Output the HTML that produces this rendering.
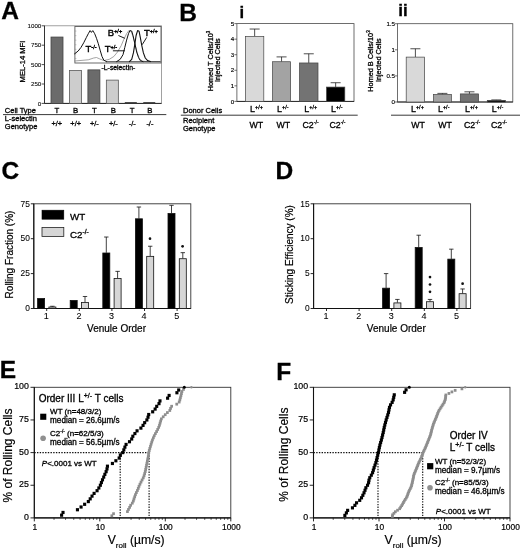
<!DOCTYPE html>
<html><head><meta charset="utf-8"><title>Figure</title>
<style>html,body{margin:0;padding:0;background:#fff;}svg{display:block;font-family:"Liberation Sans", Arial, sans-serif;will-change:transform;transform:translateZ(0);}text{stroke:#000;stroke-width:0.3px;}</style>
</head><body>
<svg width="520" height="551" viewBox="0 0 520 551">
<rect width="520" height="551" fill="#fff"/>
<text x="1.2" y="18.6" font-size="24.5" text-anchor="start" font-weight="bold" fill="#000">A</text>
<rect x="44.50" y="25.80" width="117.00" height="77.60" fill="none" stroke="#8a8a8a" stroke-width="0.8"/>
<line x1="44.5" y1="25.8" x2="44.5" y2="103.4" stroke="#333" stroke-width="1"/>
<line x1="44.5" y1="103.4" x2="161.5" y2="103.4" stroke="#222" stroke-width="1"/>
<line x1="41.6" y1="25.799999999999997" x2="44.5" y2="25.799999999999997" stroke="#222" stroke-width="0.8"/>
<text x="41.3" y="27.999999999999996" font-size="6.2" text-anchor="end" font-weight="normal" fill="#000" style="stroke-width:0.08px">1000</text>
<line x1="41.6" y1="45.199999999999996" x2="44.5" y2="45.199999999999996" stroke="#222" stroke-width="0.8"/>
<text x="41.3" y="47.4" font-size="6.2" text-anchor="end" font-weight="normal" fill="#000" style="stroke-width:0.08px">750</text>
<line x1="41.6" y1="64.6" x2="44.5" y2="64.6" stroke="#222" stroke-width="0.8"/>
<text x="41.3" y="66.8" font-size="6.2" text-anchor="end" font-weight="normal" fill="#000" style="stroke-width:0.08px">500</text>
<line x1="41.6" y1="84.0" x2="44.5" y2="84.0" stroke="#222" stroke-width="0.8"/>
<text x="41.3" y="86.2" font-size="6.2" text-anchor="end" font-weight="normal" fill="#000" style="stroke-width:0.08px">250</text>
<line x1="41.6" y1="103.4" x2="44.5" y2="103.4" stroke="#222" stroke-width="0.8"/>
<text x="41.3" y="105.60000000000001" font-size="6.2" text-anchor="end" font-weight="normal" fill="#000" style="stroke-width:0.08px">0</text>
<text x="24.9" y="61.5" font-size="7.6" text-anchor="middle" font-weight="normal" fill="#000" transform="rotate(-90 24.9 61.5)">MEL-14 MFI</text>
<rect x="51.00" y="37.05" width="12.00" height="66.35" fill="#6b6b6b" stroke="#444" stroke-width="0.8"/>
<rect x="69.45" y="70.42" width="12.00" height="32.98" fill="#cdcdcd" stroke="#5a5a5a" stroke-width="0.8"/>
<rect x="87.90" y="69.88" width="12.00" height="33.52" fill="#6b6b6b" stroke="#444" stroke-width="0.8"/>
<rect x="106.35" y="80.12" width="12.00" height="23.28" fill="#cdcdcd" stroke="#5a5a5a" stroke-width="0.8"/>
<rect x="124.80" y="102.10" width="12.00" height="1.30" fill="#3a3a3a" stroke="none" stroke-width="1"/>
<rect x="143.25" y="102.10" width="12.00" height="1.30" fill="#3a3a3a" stroke="none" stroke-width="1"/>
<rect x="74.90" y="26.50" width="86.10" height="36.50" fill="#fff" stroke="#5a5a5a" stroke-width="0.9"/>
<line x1="74.9" y1="31.0625" x2="76.4" y2="31.0625" stroke="#888" stroke-width="0.5"/>
<line x1="74.9" y1="35.625" x2="76.4" y2="35.625" stroke="#888" stroke-width="0.5"/>
<line x1="74.9" y1="40.1875" x2="76.4" y2="40.1875" stroke="#888" stroke-width="0.5"/>
<line x1="74.9" y1="44.75" x2="76.4" y2="44.75" stroke="#888" stroke-width="0.5"/>
<line x1="74.9" y1="49.3125" x2="76.4" y2="49.3125" stroke="#888" stroke-width="0.5"/>
<line x1="74.9" y1="53.875" x2="76.4" y2="53.875" stroke="#888" stroke-width="0.5"/>
<line x1="74.9" y1="58.4375" x2="76.4" y2="58.4375" stroke="#888" stroke-width="0.5"/>
<path d="M74.6,61.0 L88.3,59.8 L93.7,58.0 L96.5,57.5 L99.2,58.7 L103.8,60.6 L109.3,59.3 L113.8,56.5 L117.5,52.0 L121.2,45.6 L123.9,39.2 L126.6,33.7 L128.8,30.6 L131.2,31.3 L133.0,36.4 L134.9,43.7 L137.2,52.9 L139.4,58.4 L142.2,61.1 L146.7,61.6 L160.5,61.8" fill="none" stroke="#8c8c8c" stroke-width="0.8" stroke-linejoin="round" stroke-linecap="round"/>
<path d="M74.6,53.8 L78.2,51.0 L81.0,47.4 L83.7,42.8 L86.4,37.4 L88.3,33.7 L90.1,30.6 L91.4,32.4 L92.8,30.6 L94.7,33.7 L96.5,38.3 L98.3,43.7 L100.1,50.1 L102.0,56.5 L103.8,60.2 L106.5,61.6" fill="none" stroke="#111" stroke-width="1.0" stroke-linejoin="round" stroke-linecap="round"/>
<line x1="106" y1="61.7" x2="160.5" y2="61.7" stroke="#222" stroke-width="0.8"/>
<path d="M116.6,61.6 L120.2,59.3 L123.0,54.7 L124.8,47.4 L126.6,40.1 L128.5,33.7 L129.9,30.6 L131.7,31.0 L133.0,35.5 L134.9,43.7 L136.7,52.0 L138.5,57.5 L140.3,60.6 L143.0,61.6" fill="none" stroke="#111" stroke-width="1.0" stroke-linejoin="round" stroke-linecap="round"/>
<path d="M129.4,61.6 L131.7,59.3 L133.4,52.9 L134.9,43.7 L136.1,35.5 L137.6,30.6 L139.1,31.3 L140.3,37.4 L141.8,45.6 L143.4,52.9 L145.3,58.0 L147.6,60.6 L150.4,61.6" fill="none" stroke="#111" stroke-width="1.1" stroke-linejoin="round" stroke-linecap="round"/>
<line x1="118.4" y1="35.5" x2="124.8" y2="38.3" stroke="#000" stroke-width="0.9"/>
<line x1="112.9" y1="50.8" x2="124.8" y2="50.8" stroke="#000" stroke-width="0.9"/>
<line x1="146.7" y1="37.4" x2="142.2" y2="44.7" stroke="#000" stroke-width="0.9"/>
<text x="85.5" y="52" font-size="9.5" text-anchor="start" font-weight="normal" fill="#000" style="stroke-width:0.4px">T<tspan font-size="5.5" dy="-3.5">-/-</tspan><tspan dy="3.5" font-size="1">&#8203;</tspan></text>
<text x="104.7" y="52" font-size="9.5" text-anchor="start" font-weight="normal" fill="#000" style="stroke-width:0.4px">T<tspan font-size="5.5" dy="-3.5">+/-</tspan><tspan dy="3.5" font-size="1">&#8203;</tspan></text>
<text x="107.8" y="36" font-size="9.5" text-anchor="start" font-weight="normal" fill="#000" style="stroke-width:0.4px">B<tspan font-size="5.5" dy="-3.5">+/+</tspan><tspan dy="3.5" font-size="1">&#8203;</tspan></text>
<text x="144" y="36" font-size="9.5" text-anchor="start" font-weight="normal" fill="#000" style="stroke-width:0.4px">T<tspan font-size="5.5" dy="-3.5">+/+</tspan><tspan dy="3.5" font-size="1">&#8203;</tspan></text>
<text x="118.4" y="70.3" font-size="6.8" text-anchor="middle" font-weight="normal" fill="#000">-L-selectin-</text>
<text x="4.8" y="112.5" font-size="7.5" text-anchor="start" font-weight="normal" fill="#000">Cell Type</text>
<line x1="3" y1="114.6" x2="166.3" y2="114.6" stroke="#222" stroke-width="0.9"/>
<text x="4.8" y="120.8" font-size="7.5" text-anchor="start" font-weight="normal" fill="#000">L-selectin</text>
<text x="4.8" y="129.2" font-size="7.5" text-anchor="start" font-weight="normal" fill="#000">Genotype</text>
<text x="56.8" y="112.5" font-size="7.8" text-anchor="middle" font-weight="normal" fill="#000">T</text>
<text x="75.7" y="112.5" font-size="7.8" text-anchor="middle" font-weight="normal" fill="#000">B</text>
<text x="94.3" y="112.5" font-size="7.8" text-anchor="middle" font-weight="normal" fill="#000">T</text>
<text x="113.4" y="112.5" font-size="7.8" text-anchor="middle" font-weight="normal" fill="#000">B</text>
<text x="132.2" y="112.5" font-size="7.8" text-anchor="middle" font-weight="normal" fill="#000">T</text>
<text x="149.9" y="112.5" font-size="7.8" text-anchor="middle" font-weight="normal" fill="#000">B</text>
<text x="56.8" y="125.8" font-size="7.4" text-anchor="middle" font-weight="normal" fill="#000">+/+</text>
<text x="75.7" y="125.8" font-size="7.4" text-anchor="middle" font-weight="normal" fill="#000">+/+</text>
<text x="94.3" y="125.8" font-size="7.4" text-anchor="middle" font-weight="normal" fill="#000">+/-</text>
<text x="113.4" y="125.8" font-size="7.4" text-anchor="middle" font-weight="normal" fill="#000">+/-</text>
<text x="132.2" y="125.8" font-size="7.4" text-anchor="middle" font-weight="normal" fill="#000">-/-</text>
<text x="149.9" y="125.8" font-size="7.4" text-anchor="middle" font-weight="normal" fill="#000">-/-</text>
<text x="179.3" y="20.7" font-size="24.5" text-anchor="start" font-weight="bold" fill="#000">B</text>
<text x="239.6" y="17.6" font-size="16.5" text-anchor="start" font-weight="bold" fill="#000">i</text>
<text x="398.3" y="15.8" font-size="17" text-anchor="start" font-weight="bold" fill="#000">ii</text>
<rect x="236.90" y="23.60" width="117.10" height="77.80" fill="none" stroke="#4a4a4a" stroke-width="0.8"/>
<line x1="236.9" y1="101.4" x2="354" y2="101.4" stroke="#222" stroke-width="0.9"/>
<line x1="234.4" y1="101.4" x2="236.9" y2="101.4" stroke="#333" stroke-width="0.7"/>
<text x="234.3" y="103.5" font-size="6.2" text-anchor="end" font-weight="normal" fill="#000" style="stroke-width:0.15px">0</text>
<line x1="234.4" y1="85.84" x2="236.9" y2="85.84" stroke="#333" stroke-width="0.7"/>
<text x="234.3" y="87.94" font-size="6.2" text-anchor="end" font-weight="normal" fill="#000" style="stroke-width:0.15px">1</text>
<line x1="234.4" y1="70.28" x2="236.9" y2="70.28" stroke="#333" stroke-width="0.7"/>
<text x="234.3" y="72.38" font-size="6.2" text-anchor="end" font-weight="normal" fill="#000" style="stroke-width:0.15px">2</text>
<line x1="234.4" y1="54.72" x2="236.9" y2="54.72" stroke="#333" stroke-width="0.7"/>
<text x="234.3" y="56.82" font-size="6.2" text-anchor="end" font-weight="normal" fill="#000" style="stroke-width:0.15px">3</text>
<line x1="234.4" y1="39.16" x2="236.9" y2="39.16" stroke="#333" stroke-width="0.7"/>
<text x="234.3" y="41.26" font-size="6.2" text-anchor="end" font-weight="normal" fill="#000" style="stroke-width:0.15px">4</text>
<line x1="234.4" y1="23.599999999999994" x2="236.9" y2="23.599999999999994" stroke="#333" stroke-width="0.7"/>
<text x="234.3" y="25.699999999999996" font-size="6.2" text-anchor="end" font-weight="normal" fill="#000" style="stroke-width:0.15px">5</text>
<line x1="254.65" y1="29.045999999999992" x2="254.65" y2="36.3592" stroke="#222" stroke-width="0.8"/>
<line x1="249.65" y1="29.045999999999992" x2="259.65" y2="29.045999999999992" stroke="#222" stroke-width="0.8"/>
<rect x="245.50" y="36.36" width="18.30" height="65.04" fill="#d9d9d9" stroke="#444" stroke-width="0.7"/>
<line x1="281.55" y1="56.8984" x2="281.55" y2="61.722" stroke="#222" stroke-width="0.8"/>
<line x1="276.55" y1="56.8984" x2="286.55" y2="56.8984" stroke="#222" stroke-width="0.8"/>
<rect x="272.50" y="61.72" width="18.10" height="39.68" fill="#a3a3a3" stroke="#444" stroke-width="0.7"/>
<line x1="308.75" y1="53.7864" x2="308.75" y2="62.96679999999999" stroke="#222" stroke-width="0.8"/>
<line x1="303.75" y1="53.7864" x2="313.75" y2="53.7864" stroke="#222" stroke-width="0.8"/>
<rect x="299.50" y="62.97" width="18.50" height="38.43" fill="#737373" stroke="#444" stroke-width="0.7"/>
<line x1="335.65" y1="82.72800000000001" x2="335.65" y2="87.0848" stroke="#222" stroke-width="0.8"/>
<line x1="330.65" y1="82.72800000000001" x2="340.65" y2="82.72800000000001" stroke="#222" stroke-width="0.8"/>
<rect x="326.50" y="87.08" width="18.30" height="14.32" fill="#000" stroke="#444" stroke-width="0.7"/>
<rect x="397.40" y="23.70" width="115.40" height="78.30" fill="none" stroke="#4a4a4a" stroke-width="0.8"/>
<line x1="397.4" y1="102" x2="512.8" y2="102" stroke="#222" stroke-width="0.9"/>
<line x1="394.9" y1="23.700000000000003" x2="397.4" y2="23.700000000000003" stroke="#333" stroke-width="0.7"/>
<text x="395" y="25.800000000000004" font-size="6.2" text-anchor="end" font-weight="normal" fill="#000" style="stroke-width:0.15px">1.5</text>
<line x1="394.9" y1="49.800000000000004" x2="397.4" y2="49.800000000000004" stroke="#333" stroke-width="0.7"/>
<text x="395" y="51.900000000000006" font-size="6.2" text-anchor="end" font-weight="normal" fill="#000" style="stroke-width:0.15px">1</text>
<line x1="394.9" y1="75.9" x2="397.4" y2="75.9" stroke="#333" stroke-width="0.7"/>
<text x="395" y="78.0" font-size="6.2" text-anchor="end" font-weight="normal" fill="#000" style="stroke-width:0.15px">0.5</text>
<line x1="394.9" y1="102.0" x2="397.4" y2="102.0" stroke="#333" stroke-width="0.7"/>
<text x="395" y="104.1" font-size="6.2" text-anchor="end" font-weight="normal" fill="#000" style="stroke-width:0.15px">0</text>
<line x1="415.4" y1="48.756" x2="415.4" y2="57.108000000000004" stroke="#222" stroke-width="0.8"/>
<line x1="410.4" y1="48.756" x2="420.4" y2="48.756" stroke="#222" stroke-width="0.8"/>
<rect x="406.20" y="57.11" width="18.40" height="44.89" fill="#d9d9d9" stroke="#444" stroke-width="0.7"/>
<line x1="442.4" y1="93.387" x2="442.4" y2="94.431" stroke="#222" stroke-width="0.8"/>
<line x1="437.4" y1="93.387" x2="447.4" y2="93.387" stroke="#222" stroke-width="0.8"/>
<rect x="433.40" y="94.43" width="18.00" height="7.57" fill="#a3a3a3" stroke="#444" stroke-width="0.7"/>
<line x1="469.45000000000005" y1="91.821" x2="469.45000000000005" y2="93.909" stroke="#222" stroke-width="0.8"/>
<line x1="464.45000000000005" y1="91.821" x2="474.45000000000005" y2="91.821" stroke="#222" stroke-width="0.8"/>
<rect x="460.30" y="93.91" width="18.30" height="8.09" fill="#737373" stroke="#444" stroke-width="0.7"/>
<line x1="496.35" y1="99.912" x2="496.35" y2="100.434" stroke="#222" stroke-width="0.8"/>
<line x1="491.35" y1="99.912" x2="501.35" y2="99.912" stroke="#222" stroke-width="0.8"/>
<rect x="487.30" y="100.43" width="18.10" height="1.57" fill="#000" stroke="#444" stroke-width="0.7"/>
<text x="212.5" y="61" font-size="7.3" text-anchor="middle" font-weight="normal" fill="#000" transform="rotate(-90 212.5 61)">Homed T Cells/10<tspan font-size="4.5" dy="-3">3</tspan><tspan dy="3" font-size="1">&#8203;</tspan></text>
<text x="220.1" y="60.2" font-size="7.3" text-anchor="middle" font-weight="normal" fill="#000" transform="rotate(-90 220.1 60.2)">Injected Cells</text>
<text x="372.79999999999995" y="61" font-size="7.3" text-anchor="middle" font-weight="normal" fill="#000" transform="rotate(-90 372.79999999999995 61)">Homed B Cells/10<tspan font-size="4.5" dy="-3">3</tspan><tspan dy="3" font-size="1">&#8203;</tspan></text>
<text x="380.59999999999997" y="60.2" font-size="7.3" text-anchor="middle" font-weight="normal" fill="#000" transform="rotate(-90 380.59999999999997 60.2)">Injected Cells</text>
<text x="183" y="113.4" font-size="7.5" text-anchor="start" font-weight="normal" fill="#000">Donor Cells</text>
<line x1="180.8" y1="115.2" x2="357.7" y2="115.2" stroke="#222" stroke-width="0.9"/>
<line x1="391" y1="115.2" x2="520" y2="115.2" stroke="#222" stroke-width="0.9"/>
<text x="183" y="122.6" font-size="7.5" text-anchor="start" font-weight="normal" fill="#000">Recipient</text>
<text x="183" y="130.8" font-size="7.5" text-anchor="start" font-weight="normal" fill="#000">Genotype</text>
<text x="250.1" y="112.3" font-size="9" text-anchor="start" font-weight="normal" fill="#000">L<tspan font-size="5.5" dy="-3.3">+/+</tspan><tspan dy="3.3" font-size="1">&#8203;</tspan></text>
<text x="256.4" y="127.7" font-size="8.8" text-anchor="middle" font-weight="normal" fill="#000">WT</text>
<text x="277.0" y="112.3" font-size="9" text-anchor="start" font-weight="normal" fill="#000">L<tspan font-size="5.5" dy="-3.3">+/-</tspan><tspan dy="3.3" font-size="1">&#8203;</tspan></text>
<text x="283.3" y="127.7" font-size="8.8" text-anchor="middle" font-weight="normal" fill="#000">WT</text>
<text x="304.2" y="112.3" font-size="9" text-anchor="start" font-weight="normal" fill="#000">L<tspan font-size="5.5" dy="-3.3">+/+</tspan><tspan dy="3.3" font-size="1">&#8203;</tspan></text>
<text x="302.5" y="127.7" font-size="8.8" text-anchor="start" font-weight="normal" fill="#000">C2<tspan font-size="5.2" dy="-3.3">-/-</tspan><tspan dy="3.3" font-size="1">&#8203;</tspan></text>
<text x="331.1" y="112.3" font-size="9" text-anchor="start" font-weight="normal" fill="#000">L<tspan font-size="5.5" dy="-3.3">+/-</tspan><tspan dy="3.3" font-size="1">&#8203;</tspan></text>
<text x="329.40000000000003" y="127.7" font-size="8.8" text-anchor="start" font-weight="normal" fill="#000">C2<tspan font-size="5.2" dy="-3.3">-/-</tspan><tspan dy="3.3" font-size="1">&#8203;</tspan></text>
<text x="410.9" y="112.3" font-size="9" text-anchor="start" font-weight="normal" fill="#000">L<tspan font-size="5.5" dy="-3.3">+/+</tspan><tspan dy="3.3" font-size="1">&#8203;</tspan></text>
<text x="418.0" y="127.7" font-size="8.8" text-anchor="middle" font-weight="normal" fill="#000">WT</text>
<text x="437.9" y="112.3" font-size="9" text-anchor="start" font-weight="normal" fill="#000">L<tspan font-size="5.5" dy="-3.3">+/-</tspan><tspan dy="3.3" font-size="1">&#8203;</tspan></text>
<text x="445.0" y="127.7" font-size="8.8" text-anchor="middle" font-weight="normal" fill="#000">WT</text>
<text x="464.9" y="112.3" font-size="9" text-anchor="start" font-weight="normal" fill="#000">L<tspan font-size="5.5" dy="-3.3">+/+</tspan><tspan dy="3.3" font-size="1">&#8203;</tspan></text>
<text x="464.0" y="127.7" font-size="8.8" text-anchor="start" font-weight="normal" fill="#000">C2<tspan font-size="5.2" dy="-3.3">-/-</tspan><tspan dy="3.3" font-size="1">&#8203;</tspan></text>
<text x="491.8" y="112.3" font-size="9" text-anchor="start" font-weight="normal" fill="#000">L<tspan font-size="5.5" dy="-3.3">+/-</tspan><tspan dy="3.3" font-size="1">&#8203;</tspan></text>
<text x="490.90000000000003" y="127.7" font-size="8.8" text-anchor="start" font-weight="normal" fill="#000">C2<tspan font-size="5.2" dy="-3.3">-/-</tspan><tspan dy="3.3" font-size="1">&#8203;</tspan></text>
<text x="1.4" y="179.1" font-size="24.5" text-anchor="start" font-weight="bold" fill="#000">C</text>
<rect x="33.80" y="203.80" width="157.00" height="104.70" fill="none" stroke="#333" stroke-width="0.9"/>
<line x1="33.8" y1="203.8" x2="33.8" y2="308.5" stroke="#111" stroke-width="1.1"/>
<line x1="33.8" y1="308.5" x2="190.8" y2="308.5" stroke="#111" stroke-width="1.1"/>
<line x1="30.799999999999997" y1="203.8" x2="33.8" y2="203.8" stroke="#111" stroke-width="0.9"/>
<text x="29.799999999999997" y="206.5" font-size="8.4" text-anchor="end" font-weight="normal" fill="#000" style="stroke-width:0.08px">75</text>
<line x1="30.799999999999997" y1="238.70000000000002" x2="33.8" y2="238.70000000000002" stroke="#111" stroke-width="0.9"/>
<text x="29.799999999999997" y="241.4" font-size="8.4" text-anchor="end" font-weight="normal" fill="#000" style="stroke-width:0.08px">50</text>
<line x1="30.799999999999997" y1="273.6" x2="33.8" y2="273.6" stroke="#111" stroke-width="0.9"/>
<text x="29.799999999999997" y="276.3" font-size="8.4" text-anchor="end" font-weight="normal" fill="#000" style="stroke-width:0.08px">25</text>
<line x1="30.799999999999997" y1="308.5" x2="33.8" y2="308.5" stroke="#111" stroke-width="0.9"/>
<text x="29.799999999999997" y="311.2" font-size="8.4" text-anchor="end" font-weight="normal" fill="#000" style="stroke-width:0.08px">0</text>
<text x="13.1" y="254.5" font-size="10" text-anchor="middle" font-weight="normal" fill="#000" transform="rotate(-90 13.1 254.5)" style="stroke-width:0.2px">Rolling Fraction (%)</text>
<line x1="46.699999999999996" y1="308.5" x2="46.699999999999996" y2="311.0" stroke="#111" stroke-width="0.9"/>
<text x="46.3" y="318.8" font-size="9" text-anchor="middle" font-weight="normal" fill="#000" style="stroke-width:0.08px">1</text>
<rect x="37.60" y="298.51" width="7.00" height="9.99" fill="#000" stroke="#111" stroke-width="0.8"/>
<line x1="52.39999999999999" y1="306.2664" x2="52.39999999999999" y2="306.8248" stroke="#111" stroke-width="0.8"/>
<line x1="50.19999999999999" y1="306.2664" x2="54.599999999999994" y2="306.2664" stroke="#111" stroke-width="0.8"/>
<rect x="48.90" y="307.02" width="7.00" height="1.48" fill="#d6d6d6" stroke="#111" stroke-width="0.8"/>
<line x1="79.30000000000001" y1="308.5" x2="79.30000000000001" y2="311.0" stroke="#111" stroke-width="0.9"/>
<text x="78.9" y="318.8" font-size="9" text-anchor="middle" font-weight="normal" fill="#000" style="stroke-width:0.08px">2</text>
<rect x="70.20" y="300.46" width="7.00" height="8.04" fill="#000" stroke="#111" stroke-width="0.8"/>
<line x1="85.0" y1="296.4944" x2="85.0" y2="302.3576" stroke="#111" stroke-width="0.8"/>
<line x1="82.8" y1="296.4944" x2="87.2" y2="296.4944" stroke="#111" stroke-width="0.8"/>
<rect x="81.50" y="302.56" width="7.00" height="5.94" fill="#d6d6d6" stroke="#111" stroke-width="0.8"/>
<line x1="111.9" y1="308.5" x2="111.9" y2="311.0" stroke="#111" stroke-width="0.9"/>
<text x="111.5" y="318.8" font-size="9" text-anchor="middle" font-weight="normal" fill="#000" style="stroke-width:0.08px">3</text>
<line x1="106.3" y1="237.02480000000003" x2="106.3" y2="252.7996" stroke="#111" stroke-width="0.8"/>
<line x1="104.1" y1="237.02480000000003" x2="108.5" y2="237.02480000000003" stroke="#111" stroke-width="0.8"/>
<rect x="102.80" y="253.00" width="7.00" height="55.50" fill="#000" stroke="#111" stroke-width="0.8"/>
<line x1="117.6" y1="271.3664" x2="117.6" y2="278.3464" stroke="#111" stroke-width="0.8"/>
<line x1="115.39999999999999" y1="271.3664" x2="119.8" y2="271.3664" stroke="#111" stroke-width="0.8"/>
<rect x="114.10" y="278.55" width="7.00" height="29.95" fill="#d6d6d6" stroke="#111" stroke-width="0.8"/>
<line x1="144.50000000000003" y1="308.5" x2="144.50000000000003" y2="311.0" stroke="#111" stroke-width="0.9"/>
<text x="144.1" y="318.8" font-size="9" text-anchor="middle" font-weight="normal" fill="#000" style="stroke-width:0.08px">4</text>
<line x1="138.90000000000003" y1="207.01080000000002" x2="138.90000000000003" y2="218.5976" stroke="#111" stroke-width="0.8"/>
<line x1="136.70000000000005" y1="207.01080000000002" x2="141.10000000000002" y2="207.01080000000002" stroke="#111" stroke-width="0.8"/>
<rect x="135.40" y="218.80" width="7.00" height="89.70" fill="#000" stroke="#111" stroke-width="0.8"/>
<line x1="150.20000000000005" y1="246.2384" x2="150.20000000000005" y2="256.15" stroke="#111" stroke-width="0.8"/>
<line x1="148.00000000000006" y1="246.2384" x2="152.40000000000003" y2="246.2384" stroke="#111" stroke-width="0.8"/>
<rect x="146.70" y="256.35" width="7.00" height="52.15" fill="#d6d6d6" stroke="#111" stroke-width="0.8"/>
<line x1="177.1" y1="308.5" x2="177.1" y2="311.0" stroke="#111" stroke-width="0.9"/>
<text x="176.7" y="318.8" font-size="9" text-anchor="middle" font-weight="normal" fill="#000" style="stroke-width:0.08px">5</text>
<line x1="171.5" y1="205.3356" x2="171.5" y2="213.2928" stroke="#111" stroke-width="0.8"/>
<line x1="169.3" y1="205.3356" x2="173.7" y2="205.3356" stroke="#111" stroke-width="0.8"/>
<rect x="168.00" y="213.49" width="7.00" height="95.01" fill="#000" stroke="#111" stroke-width="0.8"/>
<line x1="182.8" y1="252.66" x2="182.8" y2="258.52320000000003" stroke="#111" stroke-width="0.8"/>
<line x1="180.60000000000002" y1="252.66" x2="185.0" y2="252.66" stroke="#111" stroke-width="0.8"/>
<rect x="179.30" y="258.72" width="7.00" height="49.78" fill="#d6d6d6" stroke="#111" stroke-width="0.8"/>
<circle cx="150" cy="238.7" r="1.35" fill="#111"/>
<circle cx="182.6" cy="246.3" r="1.35" fill="#111"/>
<text x="116.5" y="331.5" font-size="10" text-anchor="middle" font-weight="normal" fill="#000" style="stroke-width:0.2px">Venule Order</text>
<rect x="42.00" y="210.20" width="21.80" height="9.00" fill="#000" stroke="#000" stroke-width="0.6"/>
<text x="70" y="220.3" font-size="9.8" text-anchor="start" font-weight="normal" fill="#000">WT</text>
<rect x="42.00" y="227.50" width="21.80" height="9.00" fill="#d6d6d6" stroke="#222" stroke-width="0.8"/>
<text x="70" y="237.7" font-size="9.8" text-anchor="start" font-weight="normal" fill="#000">C2<tspan font-size="6.5" dy="-3.5">-/-</tspan><tspan dy="3.5" font-size="1">&#8203;</tspan></text>
<text x="275.6" y="179.1" font-size="24.5" text-anchor="start" font-weight="bold" fill="#000">D</text>
<rect x="313.60" y="203.80" width="157.00" height="104.70" fill="none" stroke="#333" stroke-width="0.9"/>
<line x1="313.6" y1="203.8" x2="313.6" y2="308.5" stroke="#111" stroke-width="1.1"/>
<line x1="313.6" y1="308.5" x2="470.6" y2="308.5" stroke="#111" stroke-width="1.1"/>
<line x1="310.6" y1="203.8" x2="313.6" y2="203.8" stroke="#111" stroke-width="0.9"/>
<text x="309.6" y="206.5" font-size="8.4" text-anchor="end" font-weight="normal" fill="#000" style="stroke-width:0.08px">15</text>
<line x1="310.6" y1="238.7" x2="313.6" y2="238.7" stroke="#111" stroke-width="0.9"/>
<text x="309.6" y="241.39999999999998" font-size="8.4" text-anchor="end" font-weight="normal" fill="#000" style="stroke-width:0.08px">10</text>
<line x1="310.6" y1="273.6" x2="313.6" y2="273.6" stroke="#111" stroke-width="0.9"/>
<text x="309.6" y="276.3" font-size="8.4" text-anchor="end" font-weight="normal" fill="#000" style="stroke-width:0.08px">5</text>
<line x1="310.6" y1="308.5" x2="313.6" y2="308.5" stroke="#111" stroke-width="0.9"/>
<text x="309.6" y="311.2" font-size="8.4" text-anchor="end" font-weight="normal" fill="#000" style="stroke-width:0.08px">0</text>
<text x="292.8" y="254.5" font-size="10" text-anchor="middle" font-weight="normal" fill="#000" transform="rotate(-90 292.8 254.5)" style="stroke-width:0.2px">Sticking Efficiency (%)</text>
<line x1="326.5" y1="308.5" x2="326.5" y2="311.0" stroke="#111" stroke-width="0.9"/>
<text x="326.1" y="318.8" font-size="9" text-anchor="middle" font-weight="normal" fill="#000" style="stroke-width:0.08px">1</text>
<line x1="359.1" y1="308.5" x2="359.1" y2="311.0" stroke="#111" stroke-width="0.9"/>
<text x="358.7" y="318.8" font-size="9" text-anchor="middle" font-weight="normal" fill="#000" style="stroke-width:0.08px">2</text>
<line x1="391.7" y1="308.5" x2="391.7" y2="311.0" stroke="#111" stroke-width="0.9"/>
<text x="391.3" y="318.8" font-size="9" text-anchor="middle" font-weight="normal" fill="#000" style="stroke-width:0.08px">3</text>
<line x1="386.1" y1="273.6" x2="386.1" y2="287.9788" stroke="#111" stroke-width="0.8"/>
<line x1="383.90000000000003" y1="273.6" x2="388.3" y2="273.6" stroke="#111" stroke-width="0.8"/>
<rect x="382.60" y="288.18" width="7.00" height="20.32" fill="#000" stroke="#111" stroke-width="0.8"/>
<line x1="397.40000000000003" y1="299.426" x2="397.40000000000003" y2="302.7066" stroke="#111" stroke-width="0.8"/>
<line x1="395.20000000000005" y1="299.426" x2="399.6" y2="299.426" stroke="#111" stroke-width="0.8"/>
<rect x="393.90" y="302.91" width="7.00" height="5.59" fill="#d6d6d6" stroke="#111" stroke-width="0.8"/>
<line x1="424.3" y1="308.5" x2="424.3" y2="311.0" stroke="#111" stroke-width="0.9"/>
<text x="423.9" y="318.8" font-size="9" text-anchor="middle" font-weight="normal" fill="#000" style="stroke-width:0.08px">4</text>
<line x1="418.70000000000005" y1="235.21" x2="418.70000000000005" y2="247.2854" stroke="#111" stroke-width="0.8"/>
<line x1="416.50000000000006" y1="235.21" x2="420.90000000000003" y2="235.21" stroke="#111" stroke-width="0.8"/>
<rect x="415.20" y="247.49" width="7.00" height="61.01" fill="#000" stroke="#111" stroke-width="0.8"/>
<line x1="430.00000000000006" y1="299.426" x2="430.00000000000006" y2="301.52" stroke="#111" stroke-width="0.8"/>
<line x1="427.80000000000007" y1="299.426" x2="432.20000000000005" y2="299.426" stroke="#111" stroke-width="0.8"/>
<rect x="426.50" y="301.72" width="7.00" height="6.78" fill="#d6d6d6" stroke="#111" stroke-width="0.8"/>
<line x1="456.9" y1="308.5" x2="456.9" y2="311.0" stroke="#111" stroke-width="0.9"/>
<text x="456.5" y="318.8" font-size="9" text-anchor="middle" font-weight="normal" fill="#000" style="stroke-width:0.08px">5</text>
<line x1="451.3" y1="249.17000000000002" x2="451.3" y2="258.942" stroke="#111" stroke-width="0.8"/>
<line x1="449.1" y1="249.17000000000002" x2="453.5" y2="249.17000000000002" stroke="#111" stroke-width="0.8"/>
<rect x="447.80" y="259.14" width="7.00" height="49.36" fill="#000" stroke="#111" stroke-width="0.8"/>
<line x1="462.6" y1="288.956" x2="462.6" y2="293.493" stroke="#111" stroke-width="0.8"/>
<line x1="460.40000000000003" y1="288.956" x2="464.8" y2="288.956" stroke="#111" stroke-width="0.8"/>
<rect x="459.10" y="293.69" width="7.00" height="14.81" fill="#d6d6d6" stroke="#111" stroke-width="0.8"/>
<circle cx="430.0" cy="277.1" r="1.35" fill="#111"/>
<circle cx="430.0" cy="284.5" r="1.35" fill="#111"/>
<circle cx="430.0" cy="291.8" r="1.35" fill="#111"/>
<circle cx="462.6" cy="283.7" r="1.35" fill="#111"/>
<text x="396.3" y="331.5" font-size="10" text-anchor="middle" font-weight="normal" fill="#000" style="stroke-width:0.2px">Venule Order</text>
<text x="-0.2" y="378.4" font-size="24.5" text-anchor="start" font-weight="bold" fill="#000">E</text>
<rect x="34.30" y="387.30" width="196.50" height="130.60" fill="none" stroke="#333" stroke-width="0.9"/>
<line x1="34.3" y1="387.3" x2="34.3" y2="517.9" stroke="#111" stroke-width="1.1"/>
<line x1="34.3" y1="517.9" x2="230.8" y2="517.9" stroke="#111" stroke-width="1.1"/>
<line x1="30.499999999999996" y1="387.3" x2="34.3" y2="387.3" stroke="#111" stroke-width="0.9"/>
<text x="28.9" y="389.3" font-size="8.8" text-anchor="end" font-weight="normal" fill="#000" style="stroke-width:0.2px">100</text>
<line x1="30.499999999999996" y1="419.95" x2="34.3" y2="419.95" stroke="#111" stroke-width="0.9"/>
<text x="28.9" y="421.95" font-size="8.8" text-anchor="end" font-weight="normal" fill="#000" style="stroke-width:0.2px">75</text>
<line x1="30.499999999999996" y1="452.6" x2="34.3" y2="452.6" stroke="#111" stroke-width="0.9"/>
<text x="28.9" y="454.6" font-size="8.8" text-anchor="end" font-weight="normal" fill="#000" style="stroke-width:0.2px">50</text>
<line x1="30.499999999999996" y1="485.25" x2="34.3" y2="485.25" stroke="#111" stroke-width="0.9"/>
<text x="28.9" y="487.25" font-size="8.8" text-anchor="end" font-weight="normal" fill="#000" style="stroke-width:0.2px">25</text>
<line x1="30.499999999999996" y1="517.9" x2="34.3" y2="517.9" stroke="#111" stroke-width="0.9"/>
<text x="28.9" y="519.9" font-size="8.8" text-anchor="end" font-weight="normal" fill="#000" style="stroke-width:0.2px">0</text>
<line x1="34.3" y1="517.9" x2="34.3" y2="521.4" stroke="#111" stroke-width="0.9"/>
<text x="34.8" y="529.5" font-size="8.4" text-anchor="middle" font-weight="normal" fill="#000" style="stroke-width:0.2px">1</text>
<line x1="54.01746471599077" y1="517.9" x2="54.01746471599077" y2="519.9" stroke="#111" stroke-width="0.7"/>
<line x1="65.55144218413788" y1="517.9" x2="65.55144218413788" y2="519.9" stroke="#111" stroke-width="0.7"/>
<line x1="73.73492943198153" y1="517.9" x2="73.73492943198153" y2="519.9" stroke="#111" stroke-width="0.7"/>
<line x1="80.08253528400923" y1="517.9" x2="80.08253528400923" y2="519.9" stroke="#111" stroke-width="0.7"/>
<line x1="85.26890690012866" y1="517.9" x2="85.26890690012866" y2="519.9" stroke="#111" stroke-width="0.7"/>
<line x1="89.65392162093382" y1="517.9" x2="89.65392162093382" y2="519.9" stroke="#111" stroke-width="0.7"/>
<line x1="93.4523941479723" y1="517.9" x2="93.4523941479723" y2="519.9" stroke="#111" stroke-width="0.7"/>
<line x1="96.80288436827578" y1="517.9" x2="96.80288436827578" y2="519.9" stroke="#111" stroke-width="0.7"/>
<line x1="99.8" y1="517.9" x2="99.8" y2="521.4" stroke="#111" stroke-width="0.9"/>
<text x="100.3" y="529.5" font-size="8.4" text-anchor="middle" font-weight="normal" fill="#000" style="stroke-width:0.2px">10</text>
<line x1="119.51746471599077" y1="517.9" x2="119.51746471599077" y2="519.9" stroke="#111" stroke-width="0.7"/>
<line x1="131.0514421841379" y1="517.9" x2="131.0514421841379" y2="519.9" stroke="#111" stroke-width="0.7"/>
<line x1="139.23492943198153" y1="517.9" x2="139.23492943198153" y2="519.9" stroke="#111" stroke-width="0.7"/>
<line x1="145.58253528400923" y1="517.9" x2="145.58253528400923" y2="519.9" stroke="#111" stroke-width="0.7"/>
<line x1="150.76890690012866" y1="517.9" x2="150.76890690012866" y2="519.9" stroke="#111" stroke-width="0.7"/>
<line x1="155.15392162093383" y1="517.9" x2="155.15392162093383" y2="519.9" stroke="#111" stroke-width="0.7"/>
<line x1="158.9523941479723" y1="517.9" x2="158.9523941479723" y2="519.9" stroke="#111" stroke-width="0.7"/>
<line x1="162.30288436827578" y1="517.9" x2="162.30288436827578" y2="519.9" stroke="#111" stroke-width="0.7"/>
<line x1="165.3" y1="517.9" x2="165.3" y2="521.4" stroke="#111" stroke-width="0.9"/>
<text x="165.8" y="529.5" font-size="8.4" text-anchor="middle" font-weight="normal" fill="#000" style="stroke-width:0.2px">100</text>
<line x1="185.01746471599077" y1="517.9" x2="185.01746471599077" y2="519.9" stroke="#111" stroke-width="0.7"/>
<line x1="196.5514421841379" y1="517.9" x2="196.5514421841379" y2="519.9" stroke="#111" stroke-width="0.7"/>
<line x1="204.73492943198156" y1="517.9" x2="204.73492943198156" y2="519.9" stroke="#111" stroke-width="0.7"/>
<line x1="211.08253528400925" y1="517.9" x2="211.08253528400925" y2="519.9" stroke="#111" stroke-width="0.7"/>
<line x1="216.26890690012868" y1="517.9" x2="216.26890690012868" y2="519.9" stroke="#111" stroke-width="0.7"/>
<line x1="220.65392162093383" y1="517.9" x2="220.65392162093383" y2="519.9" stroke="#111" stroke-width="0.7"/>
<line x1="224.4523941479723" y1="517.9" x2="224.4523941479723" y2="519.9" stroke="#111" stroke-width="0.7"/>
<line x1="227.80288436827578" y1="517.9" x2="227.80288436827578" y2="519.9" stroke="#111" stroke-width="0.7"/>
<line x1="230.8" y1="517.9" x2="230.8" y2="521.4" stroke="#111" stroke-width="0.9"/>
<text x="231.3" y="529.5" font-size="8.4" text-anchor="middle" font-weight="normal" fill="#000" style="stroke-width:0.2px">1000</text>
<line x1="34.3" y1="452.6" x2="149.1" y2="452.6" stroke="#111" stroke-width="1.15" stroke-dasharray="1.4 1.3"/>
<line x1="120.2" y1="452.6" x2="120.2" y2="517.9" stroke="#111" stroke-width="1.15" stroke-dasharray="1.4 1.3"/>
<line x1="149.1" y1="452.6" x2="149.1" y2="517.9" stroke="#111" stroke-width="1.15" stroke-dasharray="1.4 1.3"/>
<rect x="110.46" y="514.39" width="2.70" height="2.80" fill="#8e8e8e" stroke="none" stroke-width="1"/>
<rect x="112.19" y="512.29" width="2.70" height="2.80" fill="#8e8e8e" stroke="none" stroke-width="1"/>
<rect x="126.09" y="510.18" width="2.70" height="2.80" fill="#8e8e8e" stroke="none" stroke-width="1"/>
<rect x="127.12" y="508.07" width="2.70" height="2.80" fill="#8e8e8e" stroke="none" stroke-width="1"/>
<rect x="128.27" y="505.97" width="2.70" height="2.80" fill="#8e8e8e" stroke="none" stroke-width="1"/>
<rect x="129.31" y="503.86" width="2.70" height="2.80" fill="#8e8e8e" stroke="none" stroke-width="1"/>
<rect x="130.96" y="501.75" width="2.70" height="2.80" fill="#8e8e8e" stroke="none" stroke-width="1"/>
<rect x="131.97" y="499.65" width="2.70" height="2.80" fill="#8e8e8e" stroke="none" stroke-width="1"/>
<rect x="132.62" y="497.54" width="2.70" height="2.80" fill="#8e8e8e" stroke="none" stroke-width="1"/>
<rect x="133.33" y="495.44" width="2.70" height="2.80" fill="#8e8e8e" stroke="none" stroke-width="1"/>
<rect x="134.06" y="493.33" width="2.70" height="2.80" fill="#8e8e8e" stroke="none" stroke-width="1"/>
<rect x="134.99" y="491.22" width="2.70" height="2.80" fill="#8e8e8e" stroke="none" stroke-width="1"/>
<rect x="136.04" y="489.12" width="2.70" height="2.80" fill="#8e8e8e" stroke="none" stroke-width="1"/>
<rect x="136.91" y="487.01" width="2.70" height="2.80" fill="#8e8e8e" stroke="none" stroke-width="1"/>
<rect x="137.66" y="484.90" width="2.70" height="2.80" fill="#8e8e8e" stroke="none" stroke-width="1"/>
<rect x="138.60" y="482.80" width="2.70" height="2.80" fill="#8e8e8e" stroke="none" stroke-width="1"/>
<rect x="139.65" y="480.69" width="2.70" height="2.80" fill="#8e8e8e" stroke="none" stroke-width="1"/>
<rect x="140.75" y="478.58" width="2.70" height="2.80" fill="#8e8e8e" stroke="none" stroke-width="1"/>
<rect x="141.88" y="476.48" width="2.70" height="2.80" fill="#8e8e8e" stroke="none" stroke-width="1"/>
<rect x="142.70" y="474.37" width="2.70" height="2.80" fill="#8e8e8e" stroke="none" stroke-width="1"/>
<rect x="143.29" y="472.26" width="2.70" height="2.80" fill="#8e8e8e" stroke="none" stroke-width="1"/>
<rect x="143.88" y="470.16" width="2.70" height="2.80" fill="#8e8e8e" stroke="none" stroke-width="1"/>
<rect x="144.32" y="468.05" width="2.70" height="2.80" fill="#8e8e8e" stroke="none" stroke-width="1"/>
<rect x="144.75" y="465.95" width="2.70" height="2.80" fill="#8e8e8e" stroke="none" stroke-width="1"/>
<rect x="145.17" y="463.84" width="2.70" height="2.80" fill="#8e8e8e" stroke="none" stroke-width="1"/>
<rect x="145.58" y="461.73" width="2.70" height="2.80" fill="#8e8e8e" stroke="none" stroke-width="1"/>
<rect x="145.99" y="459.63" width="2.70" height="2.80" fill="#8e8e8e" stroke="none" stroke-width="1"/>
<rect x="146.42" y="457.52" width="2.70" height="2.80" fill="#8e8e8e" stroke="none" stroke-width="1"/>
<rect x="146.86" y="455.41" width="2.70" height="2.80" fill="#8e8e8e" stroke="none" stroke-width="1"/>
<rect x="147.19" y="453.31" width="2.70" height="2.80" fill="#8e8e8e" stroke="none" stroke-width="1"/>
<rect x="147.45" y="451.20" width="2.70" height="2.80" fill="#8e8e8e" stroke="none" stroke-width="1"/>
<rect x="147.90" y="449.09" width="2.70" height="2.80" fill="#8e8e8e" stroke="none" stroke-width="1"/>
<rect x="148.48" y="446.99" width="2.70" height="2.80" fill="#8e8e8e" stroke="none" stroke-width="1"/>
<rect x="149.11" y="444.88" width="2.70" height="2.80" fill="#8e8e8e" stroke="none" stroke-width="1"/>
<rect x="149.75" y="442.77" width="2.70" height="2.80" fill="#8e8e8e" stroke="none" stroke-width="1"/>
<rect x="150.40" y="440.67" width="2.70" height="2.80" fill="#8e8e8e" stroke="none" stroke-width="1"/>
<rect x="151.10" y="438.56" width="2.70" height="2.80" fill="#8e8e8e" stroke="none" stroke-width="1"/>
<rect x="152.00" y="436.45" width="2.70" height="2.80" fill="#8e8e8e" stroke="none" stroke-width="1"/>
<rect x="152.90" y="434.35" width="2.70" height="2.80" fill="#8e8e8e" stroke="none" stroke-width="1"/>
<rect x="154.04" y="432.24" width="2.70" height="2.80" fill="#8e8e8e" stroke="none" stroke-width="1"/>
<rect x="155.23" y="430.14" width="2.70" height="2.80" fill="#8e8e8e" stroke="none" stroke-width="1"/>
<rect x="156.32" y="428.03" width="2.70" height="2.80" fill="#8e8e8e" stroke="none" stroke-width="1"/>
<rect x="157.35" y="425.92" width="2.70" height="2.80" fill="#8e8e8e" stroke="none" stroke-width="1"/>
<rect x="158.12" y="423.82" width="2.70" height="2.80" fill="#8e8e8e" stroke="none" stroke-width="1"/>
<rect x="158.72" y="421.71" width="2.70" height="2.80" fill="#8e8e8e" stroke="none" stroke-width="1"/>
<rect x="159.31" y="419.60" width="2.70" height="2.80" fill="#8e8e8e" stroke="none" stroke-width="1"/>
<rect x="160.03" y="417.50" width="2.70" height="2.80" fill="#8e8e8e" stroke="none" stroke-width="1"/>
<rect x="161.86" y="415.39" width="2.70" height="2.80" fill="#8e8e8e" stroke="none" stroke-width="1"/>
<rect x="163.87" y="413.28" width="2.70" height="2.80" fill="#8e8e8e" stroke="none" stroke-width="1"/>
<rect x="166.03" y="411.18" width="2.70" height="2.80" fill="#8e8e8e" stroke="none" stroke-width="1"/>
<rect x="168.44" y="409.07" width="2.70" height="2.80" fill="#8e8e8e" stroke="none" stroke-width="1"/>
<rect x="169.22" y="406.96" width="2.70" height="2.80" fill="#8e8e8e" stroke="none" stroke-width="1"/>
<rect x="170.29" y="404.86" width="2.70" height="2.80" fill="#8e8e8e" stroke="none" stroke-width="1"/>
<rect x="175.39" y="402.75" width="2.70" height="2.80" fill="#8e8e8e" stroke="none" stroke-width="1"/>
<rect x="177.84" y="400.65" width="2.70" height="2.80" fill="#8e8e8e" stroke="none" stroke-width="1"/>
<rect x="178.49" y="398.54" width="2.70" height="2.80" fill="#8e8e8e" stroke="none" stroke-width="1"/>
<rect x="179.04" y="396.43" width="2.70" height="2.80" fill="#8e8e8e" stroke="none" stroke-width="1"/>
<rect x="179.59" y="394.33" width="2.70" height="2.80" fill="#8e8e8e" stroke="none" stroke-width="1"/>
<rect x="180.08" y="392.22" width="2.70" height="2.80" fill="#8e8e8e" stroke="none" stroke-width="1"/>
<rect x="180.60" y="390.11" width="2.70" height="2.80" fill="#8e8e8e" stroke="none" stroke-width="1"/>
<rect x="182.15" y="388.01" width="2.70" height="2.80" fill="#8e8e8e" stroke="none" stroke-width="1"/>
<circle cx="191.4" cy="387.3" r="1.2" fill="#8e8e8e"/>
<rect x="60.05" y="513.58" width="3.10" height="3.20" fill="#000" stroke="none" stroke-width="1"/>
<rect x="61.47" y="510.86" width="3.10" height="3.20" fill="#000" stroke="none" stroke-width="1"/>
<rect x="75.89" y="508.14" width="3.10" height="3.20" fill="#000" stroke="none" stroke-width="1"/>
<rect x="79.52" y="505.42" width="3.10" height="3.20" fill="#000" stroke="none" stroke-width="1"/>
<rect x="83.09" y="502.70" width="3.10" height="3.20" fill="#000" stroke="none" stroke-width="1"/>
<rect x="86.78" y="499.97" width="3.10" height="3.20" fill="#000" stroke="none" stroke-width="1"/>
<rect x="88.66" y="497.25" width="3.10" height="3.20" fill="#000" stroke="none" stroke-width="1"/>
<rect x="90.48" y="494.53" width="3.10" height="3.20" fill="#000" stroke="none" stroke-width="1"/>
<rect x="92.55" y="491.81" width="3.10" height="3.20" fill="#000" stroke="none" stroke-width="1"/>
<rect x="95.52" y="489.09" width="3.10" height="3.20" fill="#000" stroke="none" stroke-width="1"/>
<rect x="97.31" y="486.37" width="3.10" height="3.20" fill="#000" stroke="none" stroke-width="1"/>
<rect x="98.80" y="483.65" width="3.10" height="3.20" fill="#000" stroke="none" stroke-width="1"/>
<rect x="99.85" y="480.93" width="3.10" height="3.20" fill="#000" stroke="none" stroke-width="1"/>
<rect x="100.95" y="478.21" width="3.10" height="3.20" fill="#000" stroke="none" stroke-width="1"/>
<rect x="102.16" y="475.49" width="3.10" height="3.20" fill="#000" stroke="none" stroke-width="1"/>
<rect x="103.30" y="472.77" width="3.10" height="3.20" fill="#000" stroke="none" stroke-width="1"/>
<rect x="104.57" y="470.05" width="3.10" height="3.20" fill="#000" stroke="none" stroke-width="1"/>
<rect x="105.45" y="467.32" width="3.10" height="3.20" fill="#000" stroke="none" stroke-width="1"/>
<rect x="105.89" y="464.60" width="3.10" height="3.20" fill="#000" stroke="none" stroke-width="1"/>
<rect x="110.86" y="461.88" width="3.10" height="3.20" fill="#000" stroke="none" stroke-width="1"/>
<rect x="114.33" y="459.16" width="3.10" height="3.20" fill="#000" stroke="none" stroke-width="1"/>
<rect x="117.60" y="456.44" width="3.10" height="3.20" fill="#000" stroke="none" stroke-width="1"/>
<rect x="118.80" y="453.72" width="3.10" height="3.20" fill="#000" stroke="none" stroke-width="1"/>
<rect x="121.18" y="451.00" width="3.10" height="3.20" fill="#000" stroke="none" stroke-width="1"/>
<rect x="122.28" y="448.28" width="3.10" height="3.20" fill="#000" stroke="none" stroke-width="1"/>
<rect x="123.34" y="445.56" width="3.10" height="3.20" fill="#000" stroke="none" stroke-width="1"/>
<rect x="124.53" y="442.84" width="3.10" height="3.20" fill="#000" stroke="none" stroke-width="1"/>
<rect x="127.94" y="440.12" width="3.10" height="3.20" fill="#000" stroke="none" stroke-width="1"/>
<rect x="130.15" y="437.40" width="3.10" height="3.20" fill="#000" stroke="none" stroke-width="1"/>
<rect x="131.28" y="434.67" width="3.10" height="3.20" fill="#000" stroke="none" stroke-width="1"/>
<rect x="133.35" y="431.95" width="3.10" height="3.20" fill="#000" stroke="none" stroke-width="1"/>
<rect x="135.52" y="429.23" width="3.10" height="3.20" fill="#000" stroke="none" stroke-width="1"/>
<rect x="139.35" y="426.51" width="3.10" height="3.20" fill="#000" stroke="none" stroke-width="1"/>
<rect x="141.49" y="423.79" width="3.10" height="3.20" fill="#000" stroke="none" stroke-width="1"/>
<rect x="143.13" y="421.07" width="3.10" height="3.20" fill="#000" stroke="none" stroke-width="1"/>
<rect x="145.32" y="418.35" width="3.10" height="3.20" fill="#000" stroke="none" stroke-width="1"/>
<rect x="146.46" y="415.63" width="3.10" height="3.20" fill="#000" stroke="none" stroke-width="1"/>
<rect x="147.15" y="412.91" width="3.10" height="3.20" fill="#000" stroke="none" stroke-width="1"/>
<rect x="151.13" y="410.19" width="3.10" height="3.20" fill="#000" stroke="none" stroke-width="1"/>
<rect x="153.59" y="407.47" width="3.10" height="3.20" fill="#000" stroke="none" stroke-width="1"/>
<rect x="155.16" y="404.75" width="3.10" height="3.20" fill="#000" stroke="none" stroke-width="1"/>
<rect x="157.45" y="402.02" width="3.10" height="3.20" fill="#000" stroke="none" stroke-width="1"/>
<rect x="158.43" y="399.30" width="3.10" height="3.20" fill="#000" stroke="none" stroke-width="1"/>
<rect x="166.06" y="396.58" width="3.10" height="3.20" fill="#000" stroke="none" stroke-width="1"/>
<rect x="167.56" y="393.86" width="3.10" height="3.20" fill="#000" stroke="none" stroke-width="1"/>
<rect x="175.36" y="391.14" width="3.10" height="3.20" fill="#000" stroke="none" stroke-width="1"/>
<rect x="177.16" y="388.42" width="3.10" height="3.20" fill="#000" stroke="none" stroke-width="1"/>
<circle cx="184.3" cy="387.3" r="1.5" fill="#000"/>
<text x="11.699999999999996" y="455.5" font-size="12" text-anchor="middle" font-weight="normal" fill="#000" transform="rotate(-90 11.699999999999996 455.5)" style="stroke-width:0.18px">% of Rolling Cells</text>
<text x="107.7" y="544.3" font-size="12.2" text-anchor="start" font-weight="normal" fill="#000" style="stroke-width:0.18px">V<tspan font-size="8" dy="3.3">roll</tspan><tspan dy="-3.3"> (µm/s)</tspan></text>
<text x="276.2" y="379.8" font-size="24.5" text-anchor="start" font-weight="bold" fill="#000">F</text>
<rect x="313.50" y="387.30" width="196.50" height="130.60" fill="none" stroke="#333" stroke-width="0.9"/>
<line x1="313.5" y1="387.3" x2="313.5" y2="517.9" stroke="#111" stroke-width="1.1"/>
<line x1="313.5" y1="517.9" x2="510" y2="517.9" stroke="#111" stroke-width="1.1"/>
<line x1="309.7" y1="387.3" x2="313.5" y2="387.3" stroke="#111" stroke-width="0.9"/>
<text x="308.1" y="389.3" font-size="8.8" text-anchor="end" font-weight="normal" fill="#000" style="stroke-width:0.2px">100</text>
<line x1="309.7" y1="419.95" x2="313.5" y2="419.95" stroke="#111" stroke-width="0.9"/>
<text x="308.1" y="421.95" font-size="8.8" text-anchor="end" font-weight="normal" fill="#000" style="stroke-width:0.2px">75</text>
<line x1="309.7" y1="452.6" x2="313.5" y2="452.6" stroke="#111" stroke-width="0.9"/>
<text x="308.1" y="454.6" font-size="8.8" text-anchor="end" font-weight="normal" fill="#000" style="stroke-width:0.2px">50</text>
<line x1="309.7" y1="485.25" x2="313.5" y2="485.25" stroke="#111" stroke-width="0.9"/>
<text x="308.1" y="487.25" font-size="8.8" text-anchor="end" font-weight="normal" fill="#000" style="stroke-width:0.2px">25</text>
<line x1="309.7" y1="517.9" x2="313.5" y2="517.9" stroke="#111" stroke-width="0.9"/>
<text x="308.1" y="519.9" font-size="8.8" text-anchor="end" font-weight="normal" fill="#000" style="stroke-width:0.2px">0</text>
<line x1="313.5" y1="517.9" x2="313.5" y2="521.4" stroke="#111" stroke-width="0.9"/>
<text x="314.0" y="529.5" font-size="8.4" text-anchor="middle" font-weight="normal" fill="#000" style="stroke-width:0.2px">1</text>
<line x1="333.2174647159908" y1="517.9" x2="333.2174647159908" y2="519.9" stroke="#111" stroke-width="0.7"/>
<line x1="344.7514421841379" y1="517.9" x2="344.7514421841379" y2="519.9" stroke="#111" stroke-width="0.7"/>
<line x1="352.9349294319815" y1="517.9" x2="352.9349294319815" y2="519.9" stroke="#111" stroke-width="0.7"/>
<line x1="359.2825352840092" y1="517.9" x2="359.2825352840092" y2="519.9" stroke="#111" stroke-width="0.7"/>
<line x1="364.4689069001287" y1="517.9" x2="364.4689069001287" y2="519.9" stroke="#111" stroke-width="0.7"/>
<line x1="368.8539216209338" y1="517.9" x2="368.8539216209338" y2="519.9" stroke="#111" stroke-width="0.7"/>
<line x1="372.6523941479723" y1="517.9" x2="372.6523941479723" y2="519.9" stroke="#111" stroke-width="0.7"/>
<line x1="376.0028843682758" y1="517.9" x2="376.0028843682758" y2="519.9" stroke="#111" stroke-width="0.7"/>
<line x1="379.0" y1="517.9" x2="379.0" y2="521.4" stroke="#111" stroke-width="0.9"/>
<text x="379.5" y="529.5" font-size="8.4" text-anchor="middle" font-weight="normal" fill="#000" style="stroke-width:0.2px">10</text>
<line x1="398.7174647159908" y1="517.9" x2="398.7174647159908" y2="519.9" stroke="#111" stroke-width="0.7"/>
<line x1="410.2514421841379" y1="517.9" x2="410.2514421841379" y2="519.9" stroke="#111" stroke-width="0.7"/>
<line x1="418.4349294319815" y1="517.9" x2="418.4349294319815" y2="519.9" stroke="#111" stroke-width="0.7"/>
<line x1="424.7825352840092" y1="517.9" x2="424.7825352840092" y2="519.9" stroke="#111" stroke-width="0.7"/>
<line x1="429.9689069001287" y1="517.9" x2="429.9689069001287" y2="519.9" stroke="#111" stroke-width="0.7"/>
<line x1="434.3539216209338" y1="517.9" x2="434.3539216209338" y2="519.9" stroke="#111" stroke-width="0.7"/>
<line x1="438.1523941479723" y1="517.9" x2="438.1523941479723" y2="519.9" stroke="#111" stroke-width="0.7"/>
<line x1="441.5028843682758" y1="517.9" x2="441.5028843682758" y2="519.9" stroke="#111" stroke-width="0.7"/>
<line x1="444.5" y1="517.9" x2="444.5" y2="521.4" stroke="#111" stroke-width="0.9"/>
<text x="445.0" y="529.5" font-size="8.4" text-anchor="middle" font-weight="normal" fill="#000" style="stroke-width:0.2px">100</text>
<line x1="464.2174647159908" y1="517.9" x2="464.2174647159908" y2="519.9" stroke="#111" stroke-width="0.7"/>
<line x1="475.7514421841379" y1="517.9" x2="475.7514421841379" y2="519.9" stroke="#111" stroke-width="0.7"/>
<line x1="483.9349294319815" y1="517.9" x2="483.9349294319815" y2="519.9" stroke="#111" stroke-width="0.7"/>
<line x1="490.2825352840092" y1="517.9" x2="490.2825352840092" y2="519.9" stroke="#111" stroke-width="0.7"/>
<line x1="495.4689069001287" y1="517.9" x2="495.4689069001287" y2="519.9" stroke="#111" stroke-width="0.7"/>
<line x1="499.8539216209338" y1="517.9" x2="499.8539216209338" y2="519.9" stroke="#111" stroke-width="0.7"/>
<line x1="503.6523941479723" y1="517.9" x2="503.6523941479723" y2="519.9" stroke="#111" stroke-width="0.7"/>
<line x1="507.0028843682758" y1="517.9" x2="507.0028843682758" y2="519.9" stroke="#111" stroke-width="0.7"/>
<line x1="510.0" y1="517.9" x2="510.0" y2="521.4" stroke="#111" stroke-width="0.9"/>
<text x="510.5" y="529.5" font-size="8.4" text-anchor="middle" font-weight="normal" fill="#000" style="stroke-width:0.2px">1000</text>
<line x1="313.5" y1="452.6" x2="422.7" y2="452.6" stroke="#111" stroke-width="1.15" stroke-dasharray="1.4 1.3"/>
<line x1="378" y1="452.6" x2="378" y2="517.9" stroke="#111" stroke-width="1.15" stroke-dasharray="1.4 1.3"/>
<line x1="422.7" y1="452.6" x2="422.7" y2="517.9" stroke="#111" stroke-width="1.15" stroke-dasharray="1.4 1.3"/>
<rect x="391.05" y="514.96" width="2.70" height="2.80" fill="#8e8e8e" stroke="none" stroke-width="1"/>
<rect x="391.21" y="513.43" width="2.70" height="2.80" fill="#8e8e8e" stroke="none" stroke-width="1"/>
<rect x="392.61" y="511.89" width="2.70" height="2.80" fill="#8e8e8e" stroke="none" stroke-width="1"/>
<rect x="394.01" y="510.35" width="2.70" height="2.80" fill="#8e8e8e" stroke="none" stroke-width="1"/>
<rect x="396.20" y="508.82" width="2.70" height="2.80" fill="#8e8e8e" stroke="none" stroke-width="1"/>
<rect x="398.30" y="507.28" width="2.70" height="2.80" fill="#8e8e8e" stroke="none" stroke-width="1"/>
<rect x="399.32" y="505.74" width="2.70" height="2.80" fill="#8e8e8e" stroke="none" stroke-width="1"/>
<rect x="400.34" y="504.21" width="2.70" height="2.80" fill="#8e8e8e" stroke="none" stroke-width="1"/>
<rect x="401.25" y="502.67" width="2.70" height="2.80" fill="#8e8e8e" stroke="none" stroke-width="1"/>
<rect x="402.08" y="501.14" width="2.70" height="2.80" fill="#8e8e8e" stroke="none" stroke-width="1"/>
<rect x="402.92" y="499.60" width="2.70" height="2.80" fill="#8e8e8e" stroke="none" stroke-width="1"/>
<rect x="403.91" y="498.06" width="2.70" height="2.80" fill="#8e8e8e" stroke="none" stroke-width="1"/>
<rect x="404.91" y="496.53" width="2.70" height="2.80" fill="#8e8e8e" stroke="none" stroke-width="1"/>
<rect x="405.70" y="494.99" width="2.70" height="2.80" fill="#8e8e8e" stroke="none" stroke-width="1"/>
<rect x="406.26" y="493.45" width="2.70" height="2.80" fill="#8e8e8e" stroke="none" stroke-width="1"/>
<rect x="406.81" y="491.92" width="2.70" height="2.80" fill="#8e8e8e" stroke="none" stroke-width="1"/>
<rect x="407.36" y="490.38" width="2.70" height="2.80" fill="#8e8e8e" stroke="none" stroke-width="1"/>
<rect x="408.13" y="488.84" width="2.70" height="2.80" fill="#8e8e8e" stroke="none" stroke-width="1"/>
<rect x="408.90" y="487.31" width="2.70" height="2.80" fill="#8e8e8e" stroke="none" stroke-width="1"/>
<rect x="409.66" y="485.77" width="2.70" height="2.80" fill="#8e8e8e" stroke="none" stroke-width="1"/>
<rect x="410.19" y="484.23" width="2.70" height="2.80" fill="#8e8e8e" stroke="none" stroke-width="1"/>
<rect x="410.56" y="482.70" width="2.70" height="2.80" fill="#8e8e8e" stroke="none" stroke-width="1"/>
<rect x="410.94" y="481.16" width="2.70" height="2.80" fill="#8e8e8e" stroke="none" stroke-width="1"/>
<rect x="411.30" y="479.62" width="2.70" height="2.80" fill="#8e8e8e" stroke="none" stroke-width="1"/>
<rect x="411.61" y="478.09" width="2.70" height="2.80" fill="#8e8e8e" stroke="none" stroke-width="1"/>
<rect x="411.91" y="476.55" width="2.70" height="2.80" fill="#8e8e8e" stroke="none" stroke-width="1"/>
<rect x="412.21" y="475.02" width="2.70" height="2.80" fill="#8e8e8e" stroke="none" stroke-width="1"/>
<rect x="412.51" y="473.48" width="2.70" height="2.80" fill="#8e8e8e" stroke="none" stroke-width="1"/>
<rect x="413.11" y="471.94" width="2.70" height="2.80" fill="#8e8e8e" stroke="none" stroke-width="1"/>
<rect x="413.75" y="470.41" width="2.70" height="2.80" fill="#8e8e8e" stroke="none" stroke-width="1"/>
<rect x="414.39" y="468.87" width="2.70" height="2.80" fill="#8e8e8e" stroke="none" stroke-width="1"/>
<rect x="415.03" y="467.33" width="2.70" height="2.80" fill="#8e8e8e" stroke="none" stroke-width="1"/>
<rect x="415.65" y="465.80" width="2.70" height="2.80" fill="#8e8e8e" stroke="none" stroke-width="1"/>
<rect x="416.26" y="464.26" width="2.70" height="2.80" fill="#8e8e8e" stroke="none" stroke-width="1"/>
<rect x="416.87" y="462.72" width="2.70" height="2.80" fill="#8e8e8e" stroke="none" stroke-width="1"/>
<rect x="417.50" y="461.19" width="2.70" height="2.80" fill="#8e8e8e" stroke="none" stroke-width="1"/>
<rect x="418.26" y="459.65" width="2.70" height="2.80" fill="#8e8e8e" stroke="none" stroke-width="1"/>
<rect x="419.01" y="458.11" width="2.70" height="2.80" fill="#8e8e8e" stroke="none" stroke-width="1"/>
<rect x="419.76" y="456.58" width="2.70" height="2.80" fill="#8e8e8e" stroke="none" stroke-width="1"/>
<rect x="420.36" y="455.04" width="2.70" height="2.80" fill="#8e8e8e" stroke="none" stroke-width="1"/>
<rect x="420.90" y="453.50" width="2.70" height="2.80" fill="#8e8e8e" stroke="none" stroke-width="1"/>
<rect x="421.44" y="451.97" width="2.70" height="2.80" fill="#8e8e8e" stroke="none" stroke-width="1"/>
<rect x="422.07" y="450.43" width="2.70" height="2.80" fill="#8e8e8e" stroke="none" stroke-width="1"/>
<rect x="422.81" y="448.90" width="2.70" height="2.80" fill="#8e8e8e" stroke="none" stroke-width="1"/>
<rect x="423.55" y="447.36" width="2.70" height="2.80" fill="#8e8e8e" stroke="none" stroke-width="1"/>
<rect x="424.26" y="445.82" width="2.70" height="2.80" fill="#8e8e8e" stroke="none" stroke-width="1"/>
<rect x="424.88" y="444.29" width="2.70" height="2.80" fill="#8e8e8e" stroke="none" stroke-width="1"/>
<rect x="425.50" y="442.75" width="2.70" height="2.80" fill="#8e8e8e" stroke="none" stroke-width="1"/>
<rect x="426.12" y="441.21" width="2.70" height="2.80" fill="#8e8e8e" stroke="none" stroke-width="1"/>
<rect x="426.74" y="439.68" width="2.70" height="2.80" fill="#8e8e8e" stroke="none" stroke-width="1"/>
<rect x="427.35" y="438.14" width="2.70" height="2.80" fill="#8e8e8e" stroke="none" stroke-width="1"/>
<rect x="427.96" y="436.60" width="2.70" height="2.80" fill="#8e8e8e" stroke="none" stroke-width="1"/>
<rect x="428.57" y="435.07" width="2.70" height="2.80" fill="#8e8e8e" stroke="none" stroke-width="1"/>
<rect x="429.17" y="433.53" width="2.70" height="2.80" fill="#8e8e8e" stroke="none" stroke-width="1"/>
<rect x="429.54" y="431.99" width="2.70" height="2.80" fill="#8e8e8e" stroke="none" stroke-width="1"/>
<rect x="429.90" y="430.46" width="2.70" height="2.80" fill="#8e8e8e" stroke="none" stroke-width="1"/>
<rect x="430.27" y="428.92" width="2.70" height="2.80" fill="#8e8e8e" stroke="none" stroke-width="1"/>
<rect x="430.70" y="427.38" width="2.70" height="2.80" fill="#8e8e8e" stroke="none" stroke-width="1"/>
<rect x="431.15" y="425.85" width="2.70" height="2.80" fill="#8e8e8e" stroke="none" stroke-width="1"/>
<rect x="431.59" y="424.31" width="2.70" height="2.80" fill="#8e8e8e" stroke="none" stroke-width="1"/>
<rect x="432.04" y="422.78" width="2.70" height="2.80" fill="#8e8e8e" stroke="none" stroke-width="1"/>
<rect x="432.65" y="421.24" width="2.70" height="2.80" fill="#8e8e8e" stroke="none" stroke-width="1"/>
<rect x="433.31" y="419.70" width="2.70" height="2.80" fill="#8e8e8e" stroke="none" stroke-width="1"/>
<rect x="433.96" y="418.17" width="2.70" height="2.80" fill="#8e8e8e" stroke="none" stroke-width="1"/>
<rect x="434.62" y="416.63" width="2.70" height="2.80" fill="#8e8e8e" stroke="none" stroke-width="1"/>
<rect x="435.22" y="415.09" width="2.70" height="2.80" fill="#8e8e8e" stroke="none" stroke-width="1"/>
<rect x="435.79" y="413.56" width="2.70" height="2.80" fill="#8e8e8e" stroke="none" stroke-width="1"/>
<rect x="436.36" y="412.02" width="2.70" height="2.80" fill="#8e8e8e" stroke="none" stroke-width="1"/>
<rect x="436.93" y="410.48" width="2.70" height="2.80" fill="#8e8e8e" stroke="none" stroke-width="1"/>
<rect x="437.76" y="408.95" width="2.70" height="2.80" fill="#8e8e8e" stroke="none" stroke-width="1"/>
<rect x="438.74" y="407.41" width="2.70" height="2.80" fill="#8e8e8e" stroke="none" stroke-width="1"/>
<rect x="439.73" y="405.87" width="2.70" height="2.80" fill="#8e8e8e" stroke="none" stroke-width="1"/>
<rect x="440.72" y="404.34" width="2.70" height="2.80" fill="#8e8e8e" stroke="none" stroke-width="1"/>
<rect x="441.73" y="402.80" width="2.70" height="2.80" fill="#8e8e8e" stroke="none" stroke-width="1"/>
<rect x="442.74" y="401.26" width="2.70" height="2.80" fill="#8e8e8e" stroke="none" stroke-width="1"/>
<rect x="443.33" y="399.73" width="2.70" height="2.80" fill="#8e8e8e" stroke="none" stroke-width="1"/>
<rect x="443.87" y="398.19" width="2.70" height="2.80" fill="#8e8e8e" stroke="none" stroke-width="1"/>
<rect x="444.21" y="396.66" width="2.70" height="2.80" fill="#8e8e8e" stroke="none" stroke-width="1"/>
<rect x="444.33" y="395.12" width="2.70" height="2.80" fill="#8e8e8e" stroke="none" stroke-width="1"/>
<rect x="444.49" y="393.58" width="2.70" height="2.80" fill="#8e8e8e" stroke="none" stroke-width="1"/>
<rect x="447.56" y="392.05" width="2.70" height="2.80" fill="#8e8e8e" stroke="none" stroke-width="1"/>
<rect x="450.57" y="390.51" width="2.70" height="2.80" fill="#8e8e8e" stroke="none" stroke-width="1"/>
<rect x="453.81" y="388.97" width="2.70" height="2.80" fill="#8e8e8e" stroke="none" stroke-width="1"/>
<rect x="460.59" y="387.44" width="2.70" height="2.80" fill="#8e8e8e" stroke="none" stroke-width="1"/>
<circle cx="465.2" cy="387.3" r="1.2" fill="#8e8e8e"/>
<rect x="343.31" y="513.79" width="3.10" height="3.20" fill="#000" stroke="none" stroke-width="1"/>
<rect x="344.82" y="511.28" width="3.10" height="3.20" fill="#000" stroke="none" stroke-width="1"/>
<rect x="346.08" y="508.77" width="3.10" height="3.20" fill="#000" stroke="none" stroke-width="1"/>
<rect x="350.90" y="506.25" width="3.10" height="3.20" fill="#000" stroke="none" stroke-width="1"/>
<rect x="353.34" y="503.74" width="3.10" height="3.20" fill="#000" stroke="none" stroke-width="1"/>
<rect x="355.01" y="501.23" width="3.10" height="3.20" fill="#000" stroke="none" stroke-width="1"/>
<rect x="358.17" y="498.72" width="3.10" height="3.20" fill="#000" stroke="none" stroke-width="1"/>
<rect x="359.97" y="496.21" width="3.10" height="3.20" fill="#000" stroke="none" stroke-width="1"/>
<rect x="361.29" y="493.70" width="3.10" height="3.20" fill="#000" stroke="none" stroke-width="1"/>
<rect x="362.48" y="491.18" width="3.10" height="3.20" fill="#000" stroke="none" stroke-width="1"/>
<rect x="363.46" y="488.67" width="3.10" height="3.20" fill="#000" stroke="none" stroke-width="1"/>
<rect x="364.34" y="486.16" width="3.10" height="3.20" fill="#000" stroke="none" stroke-width="1"/>
<rect x="365.97" y="483.65" width="3.10" height="3.20" fill="#000" stroke="none" stroke-width="1"/>
<rect x="367.03" y="481.14" width="3.10" height="3.20" fill="#000" stroke="none" stroke-width="1"/>
<rect x="367.42" y="478.63" width="3.10" height="3.20" fill="#000" stroke="none" stroke-width="1"/>
<rect x="368.24" y="476.12" width="3.10" height="3.20" fill="#000" stroke="none" stroke-width="1"/>
<rect x="369.76" y="473.60" width="3.10" height="3.20" fill="#000" stroke="none" stroke-width="1"/>
<rect x="371.05" y="471.09" width="3.10" height="3.20" fill="#000" stroke="none" stroke-width="1"/>
<rect x="371.78" y="468.58" width="3.10" height="3.20" fill="#000" stroke="none" stroke-width="1"/>
<rect x="372.54" y="466.07" width="3.10" height="3.20" fill="#000" stroke="none" stroke-width="1"/>
<rect x="373.44" y="463.56" width="3.10" height="3.20" fill="#000" stroke="none" stroke-width="1"/>
<rect x="374.31" y="461.05" width="3.10" height="3.20" fill="#000" stroke="none" stroke-width="1"/>
<rect x="374.93" y="458.53" width="3.10" height="3.20" fill="#000" stroke="none" stroke-width="1"/>
<rect x="375.54" y="456.02" width="3.10" height="3.20" fill="#000" stroke="none" stroke-width="1"/>
<rect x="376.17" y="453.51" width="3.10" height="3.20" fill="#000" stroke="none" stroke-width="1"/>
<rect x="376.80" y="451.00" width="3.10" height="3.20" fill="#000" stroke="none" stroke-width="1"/>
<rect x="377.31" y="448.49" width="3.10" height="3.20" fill="#000" stroke="none" stroke-width="1"/>
<rect x="377.80" y="445.98" width="3.10" height="3.20" fill="#000" stroke="none" stroke-width="1"/>
<rect x="378.36" y="443.47" width="3.10" height="3.20" fill="#000" stroke="none" stroke-width="1"/>
<rect x="379.08" y="440.95" width="3.10" height="3.20" fill="#000" stroke="none" stroke-width="1"/>
<rect x="379.81" y="438.44" width="3.10" height="3.20" fill="#000" stroke="none" stroke-width="1"/>
<rect x="380.45" y="435.93" width="3.10" height="3.20" fill="#000" stroke="none" stroke-width="1"/>
<rect x="381.06" y="433.42" width="3.10" height="3.20" fill="#000" stroke="none" stroke-width="1"/>
<rect x="381.67" y="430.91" width="3.10" height="3.20" fill="#000" stroke="none" stroke-width="1"/>
<rect x="382.17" y="428.40" width="3.10" height="3.20" fill="#000" stroke="none" stroke-width="1"/>
<rect x="382.67" y="425.88" width="3.10" height="3.20" fill="#000" stroke="none" stroke-width="1"/>
<rect x="383.26" y="423.37" width="3.10" height="3.20" fill="#000" stroke="none" stroke-width="1"/>
<rect x="383.94" y="420.86" width="3.10" height="3.20" fill="#000" stroke="none" stroke-width="1"/>
<rect x="384.63" y="418.35" width="3.10" height="3.20" fill="#000" stroke="none" stroke-width="1"/>
<rect x="385.41" y="415.84" width="3.10" height="3.20" fill="#000" stroke="none" stroke-width="1"/>
<rect x="386.21" y="413.33" width="3.10" height="3.20" fill="#000" stroke="none" stroke-width="1"/>
<rect x="386.95" y="410.82" width="3.10" height="3.20" fill="#000" stroke="none" stroke-width="1"/>
<rect x="387.44" y="408.30" width="3.10" height="3.20" fill="#000" stroke="none" stroke-width="1"/>
<rect x="387.93" y="405.79" width="3.10" height="3.20" fill="#000" stroke="none" stroke-width="1"/>
<rect x="389.02" y="403.28" width="3.10" height="3.20" fill="#000" stroke="none" stroke-width="1"/>
<rect x="390.57" y="400.77" width="3.10" height="3.20" fill="#000" stroke="none" stroke-width="1"/>
<rect x="391.62" y="398.26" width="3.10" height="3.20" fill="#000" stroke="none" stroke-width="1"/>
<rect x="392.17" y="395.75" width="3.10" height="3.20" fill="#000" stroke="none" stroke-width="1"/>
<rect x="392.72" y="393.23" width="3.10" height="3.20" fill="#000" stroke="none" stroke-width="1"/>
<rect x="403.07" y="390.72" width="3.10" height="3.20" fill="#000" stroke="none" stroke-width="1"/>
<rect x="404.54" y="388.21" width="3.10" height="3.20" fill="#000" stroke="none" stroke-width="1"/>
<circle cx="409.3" cy="387.3" r="1.5" fill="#000"/>
<text x="287.8" y="454.6" font-size="12" text-anchor="middle" font-weight="normal" fill="#000" transform="rotate(-90 287.8 454.6)" style="stroke-width:0.18px">% of Rolling Cells</text>
<text x="384.6" y="544.3" font-size="12.2" text-anchor="start" font-weight="normal" fill="#000" style="stroke-width:0.18px">V<tspan font-size="8" dy="3.3">roll</tspan><tspan dy="-3.3"> (µm/s)</tspan></text>
<text x="38.7" y="401.5" font-size="10" text-anchor="start" font-weight="normal" fill="#000">Order III L<tspan font-size="7" dy="-3.4">+/-</tspan><tspan dy="3.4" font-size="1">&#8203;</tspan> T cells</text>
<rect x="40.20" y="413.70" width="6.10" height="6.10" fill="#000" stroke="none" stroke-width="1"/>
<text x="50.1" y="414.1" font-size="8" text-anchor="start" font-weight="normal" fill="#000">WT (n=48/3/2)</text>
<text x="50.1" y="423.2" font-size="8.15" text-anchor="start" font-weight="normal" fill="#000">median = 26.6µm/s</text>
<circle cx="43.1" cy="438.3" r="2.8" fill="#909090"/>
<text x="50.1" y="435.8" font-size="8" text-anchor="start" font-weight="normal" fill="#000">C2<tspan font-size="4.8" dy="-3">-/-</tspan><tspan dy="3" font-size="1">&#8203;</tspan> (n=62/5/3)</text>
<text x="50.1" y="444.6" font-size="8.15" text-anchor="start" font-weight="normal" fill="#000">median = 56.5µm/s</text>
<text x="41.8" y="466.3" font-size="8" text-anchor="start" font-weight="normal" fill="#000"><tspan font-style="italic">P</tspan>&lt;.0001 vs WT</text>
<text x="449.8" y="438.7" font-size="10" text-anchor="start" font-weight="normal" fill="#000">Order IV</text>
<text x="449.8" y="450.8" font-size="10" text-anchor="start" font-weight="normal" fill="#000">L<tspan font-size="7" dy="-3.4">+/-</tspan><tspan dy="3.4" font-size="1">&#8203;</tspan> T cells</text>
<rect x="427.10" y="463.10" width="6.20" height="6.20" fill="#000" stroke="none" stroke-width="1"/>
<text x="435" y="463.8" font-size="8" text-anchor="start" font-weight="normal" fill="#000">WT (n=52/3/2)</text>
<text x="435" y="472.9" font-size="8.15" text-anchor="start" font-weight="normal" fill="#000">median = 9.7µm/s</text>
<circle cx="430" cy="487.7" r="2.8" fill="#909090"/>
<text x="435" y="485.4" font-size="8" text-anchor="start" font-weight="normal" fill="#000">C2<tspan font-size="4.8" dy="-3">-/-</tspan><tspan dy="3" font-size="1">&#8203;</tspan> (n=85/5/3)</text>
<text x="435" y="494.4" font-size="8.15" text-anchor="start" font-weight="normal" fill="#000">median = 46.8µm/s</text>
<text x="435.8" y="514.2" font-size="8" text-anchor="start" font-weight="normal" fill="#000"><tspan font-style="italic">P</tspan>&lt;.0001 vs WT</text>
</svg>
</body></html>
